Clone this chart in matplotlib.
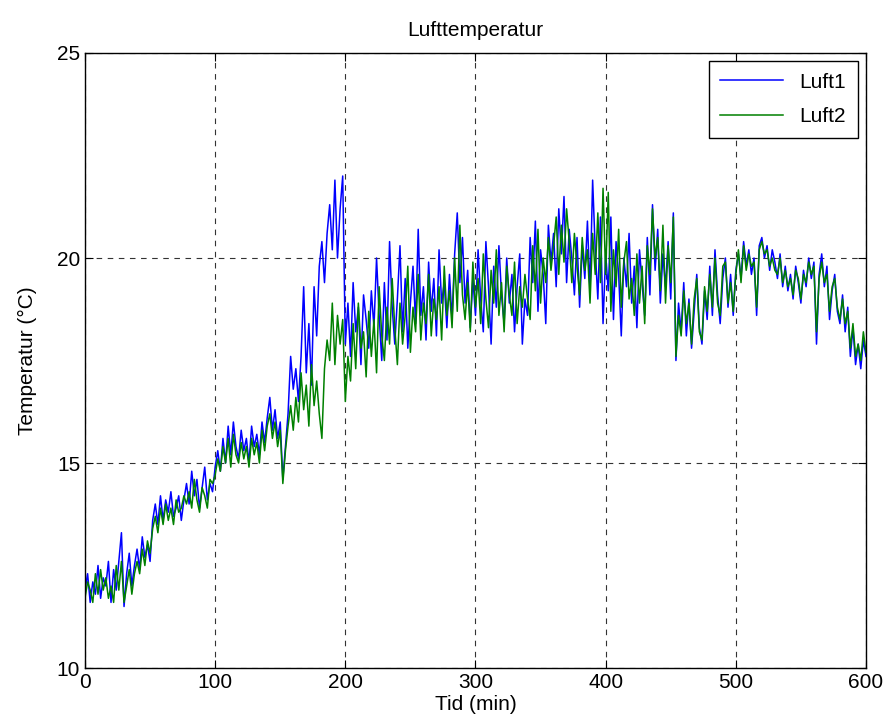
import numpy as np
import matplotlib.pyplot as plt

tid = np.arange(0, 601, 2)

luft1 = [
    11.9, 12.3, 11.6, 12.1, 11.8, 12.5, 11.7, 12.2, 12.0, 12.6,
    11.6, 12.4, 11.9, 12.6, 13.3, 11.5, 12.3, 12.8, 12.0, 12.5,
    12.9, 12.4, 13.2, 12.7, 13.0, 12.6, 13.6, 14.0, 13.5, 14.2,
    13.6, 14.1, 13.8, 14.3, 13.7, 13.9, 14.2, 13.6, 14.1, 14.5,
    14.0, 14.8, 14.2, 14.6, 13.9, 14.4, 14.9, 14.1, 14.5, 14.3,
    14.9, 15.3, 14.8, 15.6, 15.0, 15.9, 15.2, 16.0, 15.4, 15.1,
    15.8, 15.3, 15.6, 15.0, 15.9, 15.4, 15.7, 15.2, 16.0, 15.5,
    16.1, 16.6, 15.8, 16.3, 15.6, 16.0, 14.6, 15.4, 16.2, 17.6,
    16.8, 17.3, 16.5, 17.6, 19.3, 17.2, 18.4, 16.9, 19.3, 18.1,
    19.8, 20.4, 19.4, 20.6, 21.3, 20.2, 21.9, 20.0, 21.2, 22.0,
    17.9, 18.9, 17.6, 19.4, 18.2, 18.8, 17.4, 19.1, 18.5, 17.8,
    19.2, 18.3, 20.0, 18.6, 17.5, 19.4, 18.0, 20.4, 18.8, 17.9,
    19.0, 20.3, 18.2, 19.5, 17.8, 18.9, 19.8, 18.4, 20.7, 18.6,
    19.3, 18.0, 19.9, 18.7, 19.5, 18.1, 20.2, 18.9, 19.4, 18.3,
    19.6, 18.5, 20.1, 21.1, 19.4, 20.5, 18.9, 19.7, 18.3, 19.5,
    18.6, 20.2, 19.0, 18.2, 20.4, 19.3, 17.9, 19.8, 18.8, 20.3,
    19.1, 18.4, 20.0, 18.9, 19.6, 18.2, 19.3, 20.1, 17.9, 19.0,
    18.6, 20.5, 19.4, 20.9, 18.7, 20.2, 19.6, 18.4, 20.8, 19.9,
    20.6, 19.3, 21.2, 20.1, 21.5, 19.4, 20.7, 20.0, 19.1, 20.5,
    18.8, 20.3, 19.5, 20.9, 19.2, 21.9, 20.2, 19.0, 21.0, 18.4,
    20.1, 19.2, 21.0, 18.5, 20.4, 19.6, 18.1, 20.0, 19.3, 20.6,
    18.9, 19.8, 18.3, 20.2, 19.4, 18.6, 20.5, 19.1, 21.3, 19.7,
    20.7, 18.9, 20.1, 19.3, 20.4, 19.0, 21.1, 17.5, 18.9, 18.2,
    19.4, 18.1, 19.0, 17.8, 18.7, 19.6, 18.3, 17.9, 19.2, 18.5,
    19.8, 18.6, 20.2, 19.1, 18.4, 19.5, 20.0, 18.8, 19.6, 18.6,
    19.7, 20.1, 19.5, 20.4, 19.8, 20.2, 19.6, 20.0, 18.6, 20.3,
    20.5, 20.0, 20.3, 19.7, 20.2, 19.9, 19.5, 20.1, 19.3, 19.8,
    19.2, 19.6, 19.0, 19.8, 19.4, 18.9, 19.7, 19.3, 20.0, 19.5,
    19.9, 17.9, 19.6, 20.1, 19.3, 19.8, 18.5, 19.2, 19.6, 18.7,
    18.4, 19.1, 18.2, 18.8, 17.6, 18.3, 17.4, 17.9, 17.3, 18.0,
    17.6,
]

luft2 = [
    11.7, 12.1, 11.9, 11.6, 12.3, 11.8, 12.4, 11.9, 12.2, 11.7,
    12.0, 11.6, 12.5, 11.9, 12.6, 11.6, 12.0, 12.4, 11.8, 12.3,
    12.6, 12.3, 12.9, 12.5, 13.1, 12.8, 13.4, 13.7, 13.3, 13.9,
    13.5, 14.0, 13.6, 13.9, 13.5, 14.1, 13.8, 13.9, 14.2, 14.0,
    14.3, 13.9, 14.6, 14.1, 13.8, 14.4, 14.2, 13.9, 14.6, 14.5,
    14.7, 15.1, 14.8, 15.4, 15.0, 15.6, 14.9, 15.7, 15.2, 15.0,
    15.5, 15.1, 15.4, 14.9, 15.6, 15.2, 15.5, 15.0, 15.8, 15.3,
    15.9, 16.2, 15.6, 16.0, 15.4, 15.8, 14.5, 15.3, 15.9, 16.4,
    15.8, 16.6, 16.0, 17.2, 16.3, 16.9, 15.9, 17.4, 16.4, 17.0,
    16.2, 15.6, 17.3, 18.0, 17.5, 18.9, 17.4, 18.6, 17.9, 18.5,
    16.5, 17.6, 17.0, 18.4, 17.3, 18.9, 17.8, 18.2, 17.1, 18.7,
    17.6, 18.5, 17.2, 19.3, 18.1, 17.5, 18.8, 17.9, 19.5, 18.3,
    17.4, 18.9, 17.9, 18.6, 19.8, 17.7, 18.8, 18.2, 19.6, 18.0,
    18.9, 18.4, 19.6, 18.1, 19.0, 18.5, 19.3, 18.0, 19.8, 18.6,
    19.2, 18.3, 20.0, 18.7, 20.8, 19.1, 18.5, 19.4, 18.2, 19.9,
    18.8, 19.5, 18.4, 20.1, 19.0, 18.3, 19.7, 18.9, 20.2, 18.6,
    19.4, 18.2, 19.8, 19.1, 18.6, 19.9, 18.4, 19.3, 18.8, 19.6,
    19.0, 18.5, 20.3, 19.2, 20.7, 18.9, 20.0, 19.4, 20.5, 19.7,
    20.3, 21.0, 19.6, 20.8, 19.9, 21.2, 20.4, 19.4, 20.6, 19.8,
    19.1, 20.5, 19.7, 20.2, 18.9, 20.6, 19.6, 21.1, 19.4, 21.7,
    19.6, 21.6, 18.7, 20.2, 19.3, 20.7, 18.8, 19.9, 20.4, 19.0,
    19.5, 18.6, 20.1, 18.9, 19.8, 18.4, 20.3, 19.6, 21.2, 20.0,
    20.5, 19.2, 20.8, 18.9, 20.3, 19.4, 21.0, 17.6, 18.6, 18.1,
    19.2, 18.4, 18.9, 17.9, 19.0, 19.5, 18.2, 18.0, 19.3, 18.7,
    19.6, 18.8, 20.0, 18.9, 18.6, 19.8, 19.9, 18.9, 19.4, 18.7,
    19.6, 20.2, 19.4, 20.3, 19.7, 20.1, 19.8, 19.9, 18.8, 20.2,
    20.4, 20.1, 20.2, 19.8, 20.0, 19.7, 19.6, 20.0, 19.4, 19.7,
    19.3, 19.5, 19.1, 19.7, 19.5, 19.0, 19.6, 19.4, 19.9, 19.6,
    19.8, 18.2, 19.5, 19.9, 19.4, 19.6, 18.7, 19.3, 19.5, 18.8,
    18.5, 19.0, 18.4, 18.7, 17.8, 18.4, 17.6, 17.9, 17.5, 18.2,
    17.7,
]

plt.rcParams['font.family'] = ['Liberation Sans', 'DejaVu Sans']

fig = plt.figure(figsize=(8.89, 7.28), dpi=100)
ax = fig.add_axes([0.0956, 0.0824, 0.8785, 0.8448])

ax.plot(tid, luft1, color='#0000ff', lw=1.1, label='Luft1')
ax.plot(tid, luft2, color='#008000', lw=1.1, label='Luft2')

ax.set_xlim(0, 600)
ax.set_ylim(10, 25)
ax.set_xticks(np.arange(0, 601, 100))
ax.set_yticks([10, 15, 20, 25])
ax.grid(True, color='0.2', linestyle=(0, (5, 5)), lw=0.8)
ax.tick_params(direction='in', top=True, right=True, length=6, labelsize=15)
for s in ax.spines.values():
    s.set_linewidth(1.0)

ax.set_title('Lufttemperatur', fontsize=15, pad=12)
ax.set_xlabel('Tid (min)', fontsize=15, labelpad=2)
ax.set_ylabel('Temperatur (°C)', fontsize=15, labelpad=14)

leg = ax.legend(loc='upper right', fontsize=15, fancybox=False, framealpha=1,
                edgecolor='black', handlelength=3.0, labelspacing=0.75,
                borderpad=0.55, borderaxespad=0.4)
leg.get_frame().set_linewidth(1.0)

fig.savefig('out.png', dpi=100)
